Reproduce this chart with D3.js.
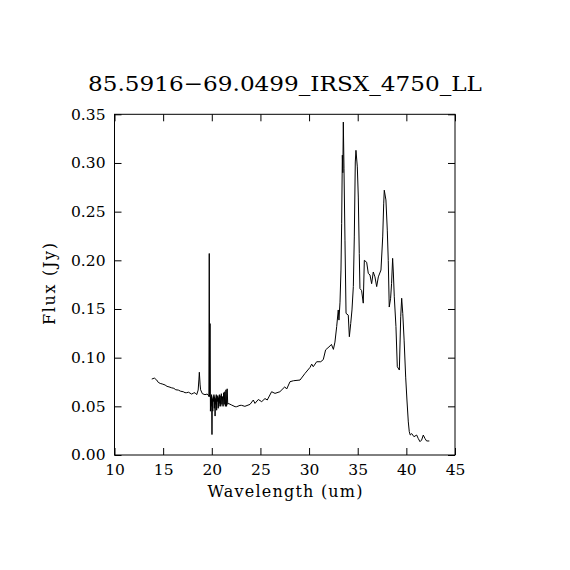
<!DOCTYPE html>
<html><head><meta charset="utf-8">
<script src="https://cdn.jsdelivr.net/npm/d3@7"></script>
<style>body{margin:0;background:#fff}svg{display:block}</style>
</head><body>
<svg id="c" width="570" height="570"></svg>
<script>
const title = "85.5916\u221269.0499_IRSX_4750_LL";
const xLabel = "Wavelength (um)";
const yLabel = "Flux (Jy)";
const xTicks = [10,15,20,25,30,35,40,45];
const yTicks = [0,0.05,0.10,0.15,0.20,0.25,0.30,0.35];
const wavelength = [13.83,14.1,14.34,14.5,14.7,14.9,15.2,15.4,15.6,15.88,16.1,16.3,16.56,16.8,17.07,17.25,17.42,17.6,17.93,18.1,18.27,18.45,18.6,18.68,18.72,18.8,18.85,19.03,19.3,19.5,19.62,19.70,19.74,19.78,19.82,19.86,19.9,19.94,19.98,20.02,20.06,20.10,20.14,20.18,20.22,20.26,20.30,20.34,20.38,20.42,20.46,20.5,20.54,20.58,20.62,20.66,20.7,20.74,20.78,20.82,20.86,20.92,20.98,21.04,21.1,21.16,21.22,21.28,21.34,21.4,21.46,21.52,21.58,21.64,21.7,22.05,22.4,22.56,22.9,23.07,23.4,23.93,24.27,24.44,24.78,25.13,25.47,25.7,26.15,26.5,27.0,27.5,27.7,28.04,28.4,29.07,29.58,30.1,30.27,30.43,30.78,31.2,31.46,31.7,32.15,32.3,32.5,32.66,32.84,33.0,33.07,33.18,33.28,33.35,33.42,33.47,33.52,33.59,33.69,33.8,34.03,34.14,34.28,34.41,34.55,34.65,34.75,34.82,34.96,35.06,35.16,35.23,35.4,35.57,35.68,35.92,36.09,36.26,36.43,36.6,36.77,36.95,37.12,37.39,37.57,37.67,37.73,37.9,38.04,38.14,38.24,38.38,38.48,38.59,38.66,38.76,38.93,39.07,39.28,39.42,39.52,39.63,39.77,39.93,40.06,40.2,40.3,40.4,40.55,40.78,41.06,41.22,41.4,41.57,41.74,41.91,42.08,42.36];
const flux = [0.078,0.079,0.077,0.0746,0.0735,0.073,0.0719,0.0705,0.0700,0.069,0.0685,0.0670,0.0667,0.0655,0.065,0.0640,0.064,0.0645,0.0626,0.0635,0.064,0.062,0.0667,0.078,0.085,0.072,0.067,0.063,0.062,0.0625,0.062,0.060,0.207,0.060,0.135,0.045,0.060,0.050,0.062,0.021,0.058,0.045,0.060,0.055,0.062,0.048,0.060,0.040,0.058,0.052,0.062,0.046,0.060,0.055,0.061,0.048,0.059,0.050,0.062,0.053,0.061,0.050,0.063,0.052,0.060,0.050,0.064,0.052,0.065,0.050,0.067,0.050,0.068,0.052,0.053,0.0513,0.0496,0.0496,0.051,0.051,0.050,0.052,0.0565,0.053,0.057,0.0548,0.058,0.0565,0.065,0.0633,0.065,0.070,0.0678,0.0753,0.0763,0.077,0.0838,0.090,0.0934,0.0907,0.0958,0.0958,0.098,0.108,0.112,0.1136,0.1085,0.116,0.132,0.149,0.1386,0.157,0.190,0.238,0.308,0.29,0.342,0.294,0.2207,0.1455,0.1437,0.1215,0.135,0.149,0.173,0.224,0.301,0.313,0.296,0.265,0.207,0.171,0.169,0.156,0.200,0.198,0.1865,0.185,0.176,0.188,0.183,0.173,0.183,0.190,0.224,0.258,0.272,0.262,0.231,0.200,0.152,0.161,0.176,0.202,0.188,0.1625,0.132,0.0907,0.0873,0.142,0.161,0.1455,0.118,0.080,0.0565,0.034,0.024,0.0205,0.022,0.0188,0.0205,0.017,0.0137,0.0154,0.0205,0.017,0.0144,0.0144];

const svg = d3.select("#c");
const L = 114.5, R = 455, T = 114.3, B = 455;
const x = d3.scaleLinear().domain([10,45]).range([L,R]);
const y = d3.scaleLinear().domain([0,0.35]).range([B,T]);
const font = "DejaVu Serif";

svg.append("rect").attr("x",L).attr("y",T).attr("width",R-L).attr("height",B-T)
  .attr("fill","none").attr("stroke","#000").attr("stroke-width",1);

const tl = 7;
const fmtX = d3.format("d"), fmtY = d3.format(".2f");
svg.append("g").attr("transform",`translate(0,${B})`)
  .call(d3.axisBottom(x).tickValues(xTicks).tickSizeInner(-tl).tickSizeOuter(0).tickPadding(9).tickFormat(fmtX))
  .call(g=>{g.select(".domain").remove();g.selectAll("text").attr("font-family",font).attr("font-size",15.5).attr("fill","#000");});
svg.append("g").attr("transform",`translate(0,${T})`)
  .call(d3.axisTop(x).tickValues(xTicks).tickSizeInner(-tl).tickSizeOuter(0).tickFormat(""))
  .call(g=>g.select(".domain").remove());
svg.append("g").attr("transform",`translate(${L},0)`)
  .call(d3.axisLeft(y).tickValues(yTicks).tickSizeInner(-tl).tickSizeOuter(0).tickPadding(9).tickFormat(fmtY))
  .call(g=>{g.select(".domain").remove();g.selectAll("text").attr("font-family",font).attr("font-size",15.5).attr("fill","#000");});
svg.append("g").attr("transform",`translate(${R},0)`)
  .call(d3.axisRight(y).tickValues(yTicks).tickSizeInner(-tl).tickSizeOuter(0).tickFormat(""))
  .call(g=>g.select(".domain").remove());

const line = d3.line().x((d,i)=>x(wavelength[i])).y(d=>y(d));
svg.append("path").datum(flux).attr("d",line).attr("fill","none").attr("stroke","#000").attr("stroke-width",1);

svg.append("text").attr("x",285).attr("y",91).attr("text-anchor","middle")
  .attr("font-family",font).attr("font-size",21).attr("textLength",394).attr("lengthAdjust","spacingAndGlyphs").text(title);
svg.append("text").attr("x",285).attr("y",497).attr("text-anchor","middle")
  .attr("font-family",font).attr("font-size",16).attr("textLength",155).attr("lengthAdjust","spacing").text(xLabel);
svg.append("text").attr("transform",`translate(55,${284}) rotate(-90)`).attr("text-anchor","middle")
  .attr("font-family",font).attr("font-size",16).attr("textLength",82).attr("lengthAdjust","spacing").text(yLabel);
</script>
</body></html>
